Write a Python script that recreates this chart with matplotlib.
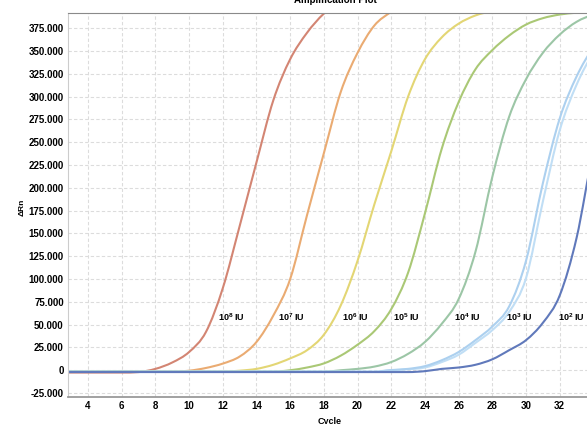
import matplotlib
matplotlib.use("Agg")
import matplotlib.pyplot as plt
import numpy as np
from matplotlib.path import Path
from matplotlib.patches import PathPatch

plt.rcParams['font.family'] = ['Liberation Sans', 'DejaVu Sans']
plt.rcParams['mathtext.fontset'] = 'custom'
plt.rcParams['mathtext.rm'] = 'Liberation Sans'
plt.rcParams['mathtext.bf'] = 'Liberation Sans:bold'

# --- Data (delta Rn per cycle) ---
cycles = list(range(1, 41))

rn_1e8 = [-2500, -2500, -2500, -2500, -2500, -2500, -2000, 1500, 8500, 20000,
          42000, 90000, 158000, 228000, 296000, 341000, 370000, 391000, 404000, 412000,
          417000, 420000, 421000, 422000, 422000, 423000, 423000, 423000, 424000, 424000,
          424000, 424000, 424000, 425000, 425000, 425000, 425000, 425000, 425000, 425000]

rn_1e7 = [-1500, -1500, -1500, -1500, -1500, -1500, -1500, -1500, -1500, -500,
          2500, 7300, 15000, 31000, 60000, 100000, 170000, 238000, 305000, 348000,
          378000, 393000, 404000, 411000, 415000, 417000, 418000, 419000, 419000, 420000,
          420000, 420000, 420000, 420000, 420000, 420000, 420000, 420000, 420000, 420000]

rn_1e6 = [-1500, -1500, -1500, -1500, -1500, -1500, -1500, -1500, -1500, -1500,
          -1500, -1500, -500, 1500, 6000, 13000, 22000, 39000, 71000, 120000,
          182000, 240000, 300000, 341000, 365000, 380000, 389000, 394000, 398000, 401000,
          403000, 404000, 404000, 405000, 405000, 405000, 405000, 405000, 405000, 405000]

rn_1e5 = [-1500, -1500, -1500, -1500, -1500, -1500, -1500, -1500, -1500, -1500,
          -1500, -1500, -1500, -1500, -1500, 0, 3000, 7500, 16000, 28000,
          43000, 67000, 107000, 172000, 243000, 294000, 330000, 351000, 367000, 379000,
          386000, 390000, 392000, 393000, 393000, 394000, 394000, 394000, 394000, 394000]

rn_1e4 = [-1500, -1500, -1500, -1500, -1500, -1500, -1500, -1500, -1500, -1500,
          -1500, -1500, -1500, -1500, -1500, -1500, -1500, -1500, 0, 1500,
          4000, 9000, 18000, 31000, 51000, 78000, 130000, 212000, 278000, 319000,
          348000, 368000, 382000, 390000, 394000, 396000, 397000, 397000, 397000, 397000]

rn_1e3_a = [-1500, -1500, -1500, -1500, -1500, -1500, -1500, -1500, -1500, -1500,
            -1500, -1500, -1500, -1500, -1500, -1500, -1500, -1500, -1500, -1500,
            -1500, 0, 1000, 3000, 9000, 17000, 30000, 44000, 64000, 101000,
            185000, 263000, 313000, 348000, 370000, 383000, 390000, 394000, 396000, 397000]

rn_1e3_b = [-1500, -1500, -1500, -1500, -1500, -1500, -1500, -1500, -1500, -1500,
            -1500, -1500, -1500, -1500, -1500, -1500, -1500, -1500, -1500, -1500,
            -1500, 200, 1500, 4500, 11000, 20000, 33000, 48000, 70000, 120000,
            205000, 276000, 322000, 354000, 374000, 385000, 391000, 394000, 396000, 397000]

rn_1e2 = [-2000, -2000, -2000, -2000, -2000, -2000, -2000, -2000, -2000, -2000,
          -2000, -2000, -2000, -2000, -2000, -2000, -2000, -2000, -2000, -2000,
          -2000, -2000, -2000, -1000, 1500, 3000, 6000, 12000, 22000, 33000,
          52000, 82000, 145000, 240000, 300000, 340000, 364000, 379000, 386000, 390000]

series = [
    (rn_1e8, '#d38573'),
    (rn_1e7, '#eaab72'),
    (rn_1e6, '#e3d674'),
    (rn_1e5, '#aac875'),
    (rn_1e4, '#9cc6a6'),
    (rn_1e3_a, '#c0def5'),
    (rn_1e3_b, '#acd0ef'),
    (rn_1e2, '#6079bb'),
]

label_powers = ['8', '7', '6', '5', '4', '3', '2']
label_x = [12.5, 16.1, 19.9, 22.9, 26.5, 29.6, 32.7]
label_y = 58000

x_ticks = list(range(4, 36, 2))
y_ticks = list(range(-25000, 400000, 25000))


def smooth_curve(ax, x, y, color, lw):
    # draws the per-cycle points joined by monotone bezier segments
    x = np.asarray(x, float)
    y = np.asarray(y, float)
    h = np.diff(x)
    d = np.diff(y) / h
    m = np.zeros_like(y)
    m[0], m[-1] = d[0], d[-1]
    for i in range(1, len(y) - 1):
        if d[i - 1] * d[i] > 0:
            m[i] = (d[i - 1] + d[i]) / 2
            lim = 3 * min(abs(d[i - 1]), abs(d[i]))
            if abs(m[i]) > lim:
                m[i] = np.sign(m[i]) * lim
    verts = [(x[0], y[0])]
    codes = [Path.MOVETO]
    for i in range(len(h)):
        verts += [(x[i] + h[i] / 3, y[i] + m[i] * h[i] / 3),
                  (x[i + 1] - h[i] / 3, y[i + 1] - m[i + 1] * h[i] / 3),
                  (x[i + 1], y[i + 1])]
        codes += [Path.CURVE4] * 3
    ax.add_patch(PathPatch(Path(verts, codes), fill=False, edgecolor=color,
                           linewidth=lw, capstyle='round'))


# --- Figure ---
fig = plt.figure(figsize=(5.87, 4.24), dpi=100)
ax = fig.add_axes([0.1158, 0.0644, 0.9525, 0.9056])

for vals, col in series:
    smooth_curve(ax, cycles, vals, col, 1.5)

for p, lx in zip(label_powers, label_x):
    ax.text(lx, label_y, r'$\mathbf{10^{%s}}$ IU' % p, fontsize=6.5,
            fontweight='bold', ha='center', va='center')

ax.set_xlim(2.81, 36)
ax.set_ylim(-29000, 392000)
ax.set_xticks(x_ticks)
ax.set_yticks(y_ticks)
ax.set_xticklabels([str(t) for t in x_ticks], fontsize=7, fontweight='bold')
ax.set_yticklabels(['{:,}'.format(t).replace(',', '.') for t in y_ticks],
                   fontsize=7, fontweight='bold')
ax.tick_params(length=0, pad=3)
ax.grid(True, color='#dcdcdc', linestyle=(0, (3, 2)), linewidth=0.8)
ax.set_axisbelow(True)

ax.spines['right'].set_visible(False)
ax.spines['left'].set_color('#cccccc')
ax.spines['top'].set_color('#8a8a8a')
ax.spines['bottom'].set_color('#9a9a9a')
ax.spines['bottom'].set_linewidth(1.3)

fig.text(0.571, 1.0, 'Amplification Plot', fontsize=7, fontweight='bold',
         ha='center', va='center')
fig.text(0.562, 0.007, 'Cycle', fontsize=6.5, fontweight='bold',
         ha='center', va='center')
fig.text(0.037, 0.51, 'ΔRn', fontsize=6, fontweight='bold', rotation=90,
         ha='center', va='center')

fig.savefig('out.png', dpi=100)
